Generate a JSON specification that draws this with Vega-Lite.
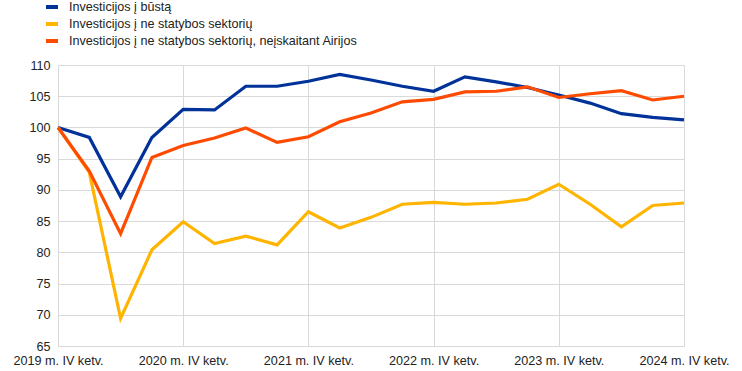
{
  "$schema": "https://vega.github.io/schema/vega-lite/v6.json",
  "width": 626,
  "height": 281,
  "autosize": "none",
  "padding": {"left": 58, "top": 65, "right": 58, "bottom": 25},
  "background": "white",
  "config": {
    "font": "Liberation Sans",
    "view": {"stroke": null},
    "axis": {"labelFont": "Liberation Sans", "labelFontSize": 12.6, "labelColor": "#222222", "gridColor": "#d9d9d9", "gridWidth": 1, "domain": false, "ticks": false, "title": null}
  },
  "datasets": {
    "d": [
      {"t": 0, "series": "Investicijos į būstą", "value": 100},
      {"t": 1, "series": "Investicijos į būstą", "value": 98.4},
      {"t": 2, "series": "Investicijos į būstą", "value": 88.9},
      {"t": 3, "series": "Investicijos į būstą", "value": 98.4},
      {"t": 4, "series": "Investicijos į būstą", "value": 102.9},
      {"t": 5, "series": "Investicijos į būstą", "value": 102.8},
      {"t": 6, "series": "Investicijos į būstą", "value": 106.6},
      {"t": 7, "series": "Investicijos į būstą", "value": 106.6},
      {"t": 8, "series": "Investicijos į būstą", "value": 107.4},
      {"t": 9, "series": "Investicijos į būstą", "value": 108.5},
      {"t": 10, "series": "Investicijos į būstą", "value": 107.6},
      {"t": 11, "series": "Investicijos į būstą", "value": 106.6},
      {"t": 12, "series": "Investicijos į būstą", "value": 105.8},
      {"t": 13, "series": "Investicijos į būstą", "value": 108.1},
      {"t": 14, "series": "Investicijos į būstą", "value": 107.3},
      {"t": 15, "series": "Investicijos į būstą", "value": 106.4},
      {"t": 16, "series": "Investicijos į būstą", "value": 105.2},
      {"t": 17, "series": "Investicijos į būstą", "value": 103.9},
      {"t": 18, "series": "Investicijos į būstą", "value": 102.2},
      {"t": 19, "series": "Investicijos į būstą", "value": 101.6},
      {"t": 20, "series": "Investicijos į būstą", "value": 101.2},
      {"t": 0, "series": "Investicijos į ne statybos sektorių", "value": 100},
      {"t": 1, "series": "Investicijos į ne statybos sektorių", "value": 92.8},
      {"t": 2, "series": "Investicijos į ne statybos sektorių", "value": 69.4},
      {"t": 3, "series": "Investicijos į ne statybos sektorių", "value": 80.4},
      {"t": 4, "series": "Investicijos į ne statybos sektorių", "value": 84.9},
      {"t": 5, "series": "Investicijos į ne statybos sektorių", "value": 81.4},
      {"t": 6, "series": "Investicijos į ne statybos sektorių", "value": 82.6},
      {"t": 7, "series": "Investicijos į ne statybos sektorių", "value": 81.2},
      {"t": 8, "series": "Investicijos į ne statybos sektorių", "value": 86.5},
      {"t": 9, "series": "Investicijos į ne statybos sektorių", "value": 83.9},
      {"t": 10, "series": "Investicijos į ne statybos sektorių", "value": 85.6},
      {"t": 11, "series": "Investicijos į ne statybos sektorių", "value": 87.7},
      {"t": 12, "series": "Investicijos į ne statybos sektorių", "value": 88.0},
      {"t": 13, "series": "Investicijos į ne statybos sektorių", "value": 87.7},
      {"t": 14, "series": "Investicijos į ne statybos sektorių", "value": 87.9},
      {"t": 15, "series": "Investicijos į ne statybos sektorių", "value": 88.5},
      {"t": 16, "series": "Investicijos į ne statybos sektorių", "value": 90.9},
      {"t": 17, "series": "Investicijos į ne statybos sektorių", "value": 87.7},
      {"t": 18, "series": "Investicijos į ne statybos sektorių", "value": 84.1},
      {"t": 19, "series": "Investicijos į ne statybos sektorių", "value": 87.5},
      {"t": 20, "series": "Investicijos į ne statybos sektorių", "value": 87.9},
      {"t": 0, "series": "Investicijos į ne statybos sektorių, neįskaitant Airijos", "value": 100},
      {"t": 1, "series": "Investicijos į ne statybos sektorių, neįskaitant Airijos", "value": 93.0},
      {"t": 2, "series": "Investicijos į ne statybos sektorių, neįskaitant Airijos", "value": 83.0},
      {"t": 3, "series": "Investicijos į ne statybos sektorių, neįskaitant Airijos", "value": 95.2},
      {"t": 4, "series": "Investicijos į ne statybos sektorių, neįskaitant Airijos", "value": 97.1},
      {"t": 5, "series": "Investicijos į ne statybos sektorių, neįskaitant Airijos", "value": 98.3},
      {"t": 6, "series": "Investicijos į ne statybos sektorių, neįskaitant Airijos", "value": 99.9},
      {"t": 7, "series": "Investicijos į ne statybos sektorių, neįskaitant Airijos", "value": 97.6},
      {"t": 8, "series": "Investicijos į ne statybos sektorių, neįskaitant Airijos", "value": 98.5},
      {"t": 9, "series": "Investicijos į ne statybos sektorių, neįskaitant Airijos", "value": 100.9},
      {"t": 10, "series": "Investicijos į ne statybos sektorių, neįskaitant Airijos", "value": 102.3},
      {"t": 11, "series": "Investicijos į ne statybos sektorių, neįskaitant Airijos", "value": 104.1},
      {"t": 12, "series": "Investicijos į ne statybos sektorių, neįskaitant Airijos", "value": 104.5},
      {"t": 13, "series": "Investicijos į ne statybos sektorių, neįskaitant Airijos", "value": 105.7},
      {"t": 14, "series": "Investicijos į ne statybos sektorių, neįskaitant Airijos", "value": 105.8},
      {"t": 15, "series": "Investicijos į ne statybos sektorių, neįskaitant Airijos", "value": 106.5},
      {"t": 16, "series": "Investicijos į ne statybos sektorių, neįskaitant Airijos", "value": 104.8},
      {"t": 17, "series": "Investicijos į ne statybos sektorių, neįskaitant Airijos", "value": 105.4},
      {"t": 18, "series": "Investicijos į ne statybos sektorių, neįskaitant Airijos", "value": 105.9},
      {"t": 19, "series": "Investicijos į ne statybos sektorių, neįskaitant Airijos", "value": 104.4},
      {"t": 20, "series": "Investicijos į ne statybos sektorių, neįskaitant Airijos", "value": 105.0}
    ]
  },
  "data": {"name": "d"},
  "mark": {"type": "line", "strokeWidth": 3.2, "strokeJoin": "miter", "clip": false},
  "encoding": {
    "x": {
      "field": "t", "type": "quantitative",
      "scale": {"domain": [0, 20], "nice": false, "zero": false},
      "axis": {"values": [0, 4, 8, 12, 16, 20], "labelExpr": "(2019 + datum.value / 4) + ' m. IV ketv.'", "labelPadding": 8, "labelFlush": false}
    },
    "y": {
      "field": "value", "type": "quantitative",
      "scale": {"domain": [65, 110], "nice": false, "zero": false},
      "axis": {"values": [65, 70, 75, 80, 85, 90, 95, 100, 105, 110], "labelPadding": 8}
    },
    "color": {
      "field": "series", "type": "nominal",
      "scale": {
        "domain": ["Investicijos į būstą", "Investicijos į ne statybos sektorių", "Investicijos į ne statybos sektorių, neįskaitant Airijos"],
        "range": ["#003299", "#FFB400", "#FF4B00"]
      },
      "legend": {
        "title": null, "orient": "none", "legendX": -14, "legendY": -66,
        "symbolType": "stroke", "symbolSize": 144, "symbolStrokeWidth": 4,
        "labelFont": "Liberation Sans", "labelFontSize": 12.6, "labelColor": "#222222",
        "rowPadding": 1, "labelOffset": 9, "labelLimit": 500
      }
    }
  }
}
